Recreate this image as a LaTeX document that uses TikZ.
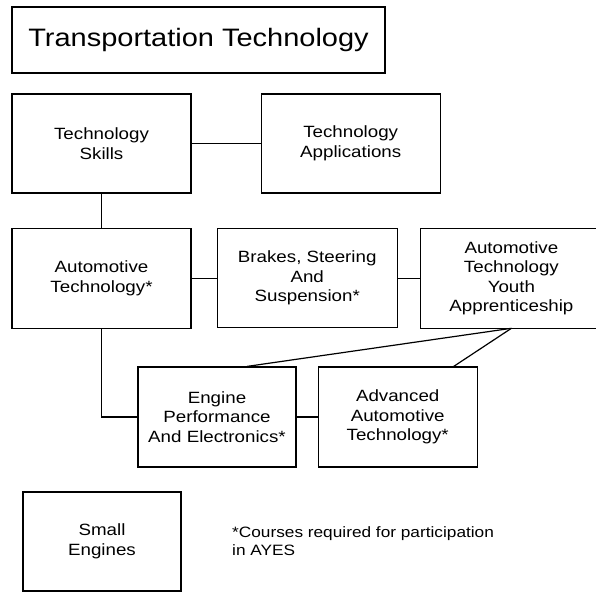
\documentclass[tikz,border=0pt]{standalone}
\usepackage{fontspec}
\setmainfont{Liberation Sans}[FakeStretch=1.15]
\usetikzlibrary{positioning}

\begin{document}
\begin{tikzpicture}[x=1pt, y=-1pt,
        coursebox/.style={rectangle, draw=black, line width=1.2pt, align=center, minimum width=179pt, minimum height=99pt, inner sep=2pt, font=\fontsize{16.3}{19.5}\selectfont},
        smallbox/.style={coursebox, minimum width=158pt, minimum height=100pt},
        link/.style={draw=black, line width=1.2pt}]
        \useasboundingbox (0,0) rectangle (596,592);

        \node[coursebox, minimum width=373pt, minimum height=66pt, font=\fontsize{25.2}{30}\selectfont] (title) at (198.5,40) {Transportation Technology};
        \node[coursebox] (skills) at (101.5,143.5) {Technology\\Skills};
        \node[coursebox] (apps) [right=69pt of skills] {Technology\\Applications};
        \node[coursebox, minimum height=100pt] (autotech) [below=34pt of skills] {Automotive\\Technology*};
        \node[coursebox, minimum width=180pt] (brakes) [right=25pt of autotech] {Brakes, Steering\\And\\Suspension*};
        % box runs off the right edge of the page
        \node[coursebox, draw=none, minimum width=180pt] (ayap) [right=23pt of brakes] {Automotive\\Technology\\Youth\\Apprenticeship};
        \draw[link] ([xshift=30pt]ayap.north east) -- (ayap.north west) -- (ayap.south west) -- ([xshift=30pt]ayap.south east);
        \node[smallbox] (engine) at (217,417) {Engine\\Performance\\And Electronics*};
        \node[smallbox, minimum width=159pt] (advanced) [right=21pt of engine] {Advanced\\Automotive\\Technology*};
        \node[smallbox, minimum height=99pt] (small) at (102,541.5) {Small\\Engines};
        \node[align=left, anchor=base west, inner sep=0pt, font=\fontsize{15}{18}\selectfont] (note) at (232,555) {*Courses required for participation\\in AYES};

        \draw[link] (skills) -- (apps);
        \draw[link] (skills) -- (autotech);
        \draw[link] (autotech) -- (brakes);
        \draw[link] (brakes) -- (ayap);
        \draw[link] (autotech.south) |- (engine.west);
        \draw[link] (engine) -- (advanced);
        \draw[link] (ayap.south) -- ([xshift=30pt]engine.north);
        \draw[link] (ayap.south) -- ([xshift=56pt]advanced.north);
    \end{tikzpicture}
\end{document}
